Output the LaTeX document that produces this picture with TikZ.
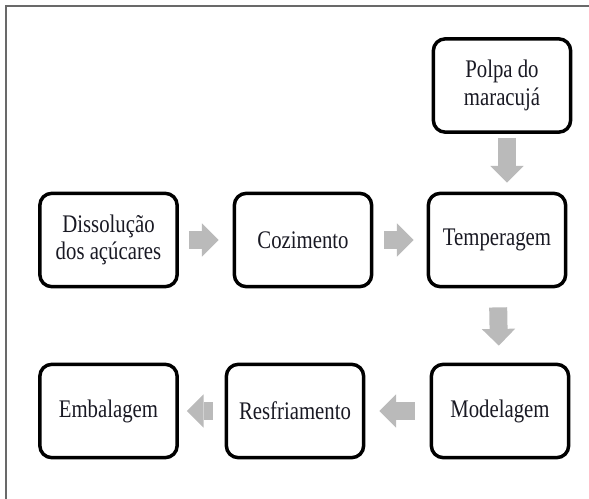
\documentclass[tikz,border=0pt]{standalone}
\usepackage{fontspec}
\setmainfont{Liberation Serif}[FakeStretch=0.82]
\usepackage{tikz}
\usetikzlibrary{arrows.meta}
\definecolor{setacinza}{RGB}{186,186,186}
\definecolor{molduracinza}{RGB}{105,105,105}
\definecolor{textoescuro}{RGB}{25,25,35}

\begin{document}
\begin{tikzpicture}[x=0.75pt,y=-0.75pt]
                \tikzstyle{etapa} = [rectangle, rounded corners=9pt, minimum width=103pt, minimum height=70pt, align=center, text centered, draw=black, line width=2.6pt, text=textoescuro, font=\fontsize{19}{20.5}\selectfont]
                \tikzstyle{seta} = [setacinza, line width=13.5pt, -{Triangle[width=25pt,length=12.5pt,line width=0pt]}]
                \useasboundingbox (0,0) rectangle (589,499);
                \draw [molduracinza, line width=1.5pt] (6,499) -- (6,6) -- (589,6);

                \node (polpa) [etapa] at (502,85.5) {Polpa do\\maracujá};
                \node (dissol) [etapa] at (108.5,240) {Dissolução\\dos açúcares};
                \node (coz) [etapa] at (303,240) {Cozimento};
                \node (temp) [etapa] at (497,240) {Temperagem};
                \node (emb) [etapa] at (108.5,411) {Embalagem};
                \node (resf) [etapa] at (295,411) {Resfriamento};
                \node (model) [etapa] at (500,411) {Modelagem};

                \draw [seta, shorten <=7.5pt, shorten >=10.5pt] (dissol) -- (coz);
                \draw [seta, shorten <=8.25pt, shorten >=9.75pt] (coz) -- (temp);
                \draw [seta, shorten <=3pt, shorten >=6.75pt] ([xshift=3.75pt]polpa.south) -- ([xshift=7.5pt]temp.north);
                \draw [seta, shorten <=14.25pt, shorten >=12.75pt] (temp) -- (model);
                \draw [seta, shorten <=11.25pt, shorten >=10.5pt] (model) -- (resf);
                \draw [seta, shorten <=9pt, shorten >=6pt] (resf) -- (emb);
            \end{tikzpicture}
\end{document}
